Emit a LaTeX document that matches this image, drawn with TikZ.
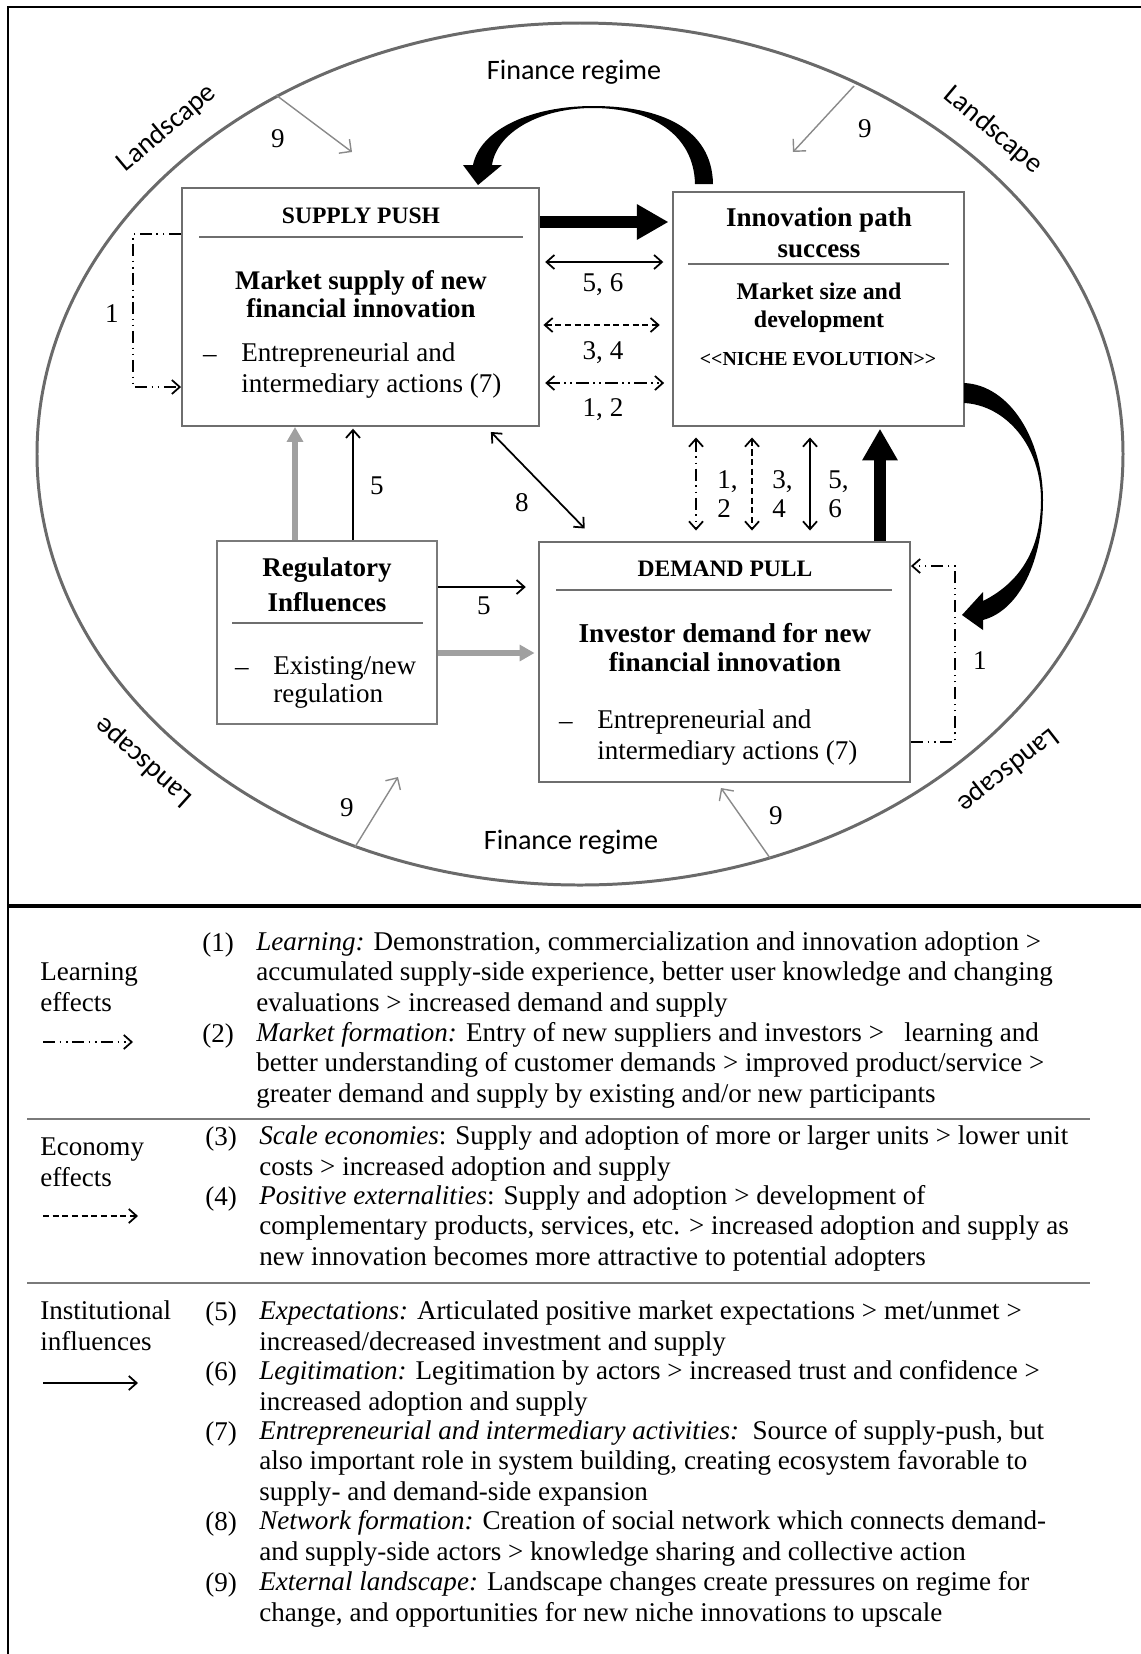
\documentclass[tikz,border=0pt]{standalone}
\usepackage{fontspec}
\setmainfont{Liberation Serif}
\newfontfamily\calib{Carlito}
\usetikzlibrary{arrows.meta}
\definecolor{framegray}{HTML}{6E6E6E}
\definecolor{ringgray}{HTML}{6A6A6A}
\definecolor{softgray}{HTML}{A0A0A0}
\definecolor{extgray}{HTML}{8A8A8A}
\definecolor{linegray}{HTML}{7A7A7A}
\newcommand{\fs}[2]{\fontsize{#1}{#2}\selectfont}
\begin{document}
\begin{tikzpicture}[x=0.02cm,y=-0.02cm,
    every node/.style={inner sep=0pt},
    panel/.style={draw=framegray,line width=1.1pt},
    divider/.style={draw=framegray,line width=0.9pt},
    bodytext/.style={font=\fs{15.4}{17.1}},
    titletext/.style={font=\fs{13.4}{16}\bfseries},
    boldtext/.style={font=\fs{15.3}{15.9}\bfseries,align=center},
    numtext/.style={font=\fs{15.4}{16}},
    sanstext/.style={font=\calib\fs{16}{18}},
    conn/.style={line width=1pt},
    onehead/.style={conn,-{Straight Barb[length=4.5pt,width=8pt]}},
    twohead/.style={conn,{Straight Barb[length=4.5pt,width=8pt]}-{Straight Barb[length=4.5pt,width=8pt]}},
    learn/.style={dash pattern=on 7pt off 2.5pt on 1pt off 2.5pt on 1pt off 2.5pt},
    econ/.style={dash pattern=on 3.5pt off 2pt},
    push/.style={line width=6.3pt,-{Triangle[length=18pt,width=19pt]}},
    regarrow/.style={softgray,line width=3.4pt,-{Triangle[length=8.5pt,width=9pt]}},
    landarrow/.style={extgray,line width=0.8pt,-{Straight Barb[length=5pt,width=10pt]}}]
\useasboundingbox (0,0) rectangle (1141,1654);
\draw[line width=1.2pt] (1160,7) -- (8,7) -- (8,1670);
\draw[line width=2.4pt] (8,906) -- (1160,906);
\draw[ringgray,line width=1.7pt] (580,454) ellipse [x radius=543,y radius=431];
\node[sanstext,anchor=base] (regimetop) at (574,79) {Finance regime};
\node[sanstext,anchor=base] (regimebot) at (571,849) {Finance regime};
\node[sanstext,rotate=40] (landul) at (167,128) {Landscape};
\node[sanstext,rotate=-40] (landur) at (993,130) {Landscape};
\node[sanstext,rotate=138] (landll) at (144,762) {Landscape};
\node[sanstext,rotate=-142] (landlr) at (1008,770) {Landscape};
\node[panel,minimum width=7.14cm,minimum height=4.76cm] (supply) at (360.5,307) {};
\node[panel,minimum width=5.82cm,minimum height=4.68cm] (innov) at (818.5,309) {};
\node[panel,minimum width=7.42cm,minimum height=4.8cm] (demand) at (724.5,662) {};
\node[panel,draw=linegray,line width=0.9pt,minimum width=4.4cm,minimum height=3.66cm] (reg) at (327,632.5) {};
\draw[divider] (199,237) -- (523,237);
\draw[divider] (688,264) -- (949,264);
\draw[divider] (556,590) -- (892,590);
\draw[divider] (232,623) -- (423,623);
\node[titletext,anchor=base] (suptitle) at (361,223) {SUPPLY PUSH};
\node[boldtext,anchor=base] (supmain) at (361,317) {Market supply of new\\financial innovation};
\node[bodytext,anchor=base] (supdash) at (210,362) {–};
\node[bodytext,anchor=base west,align=left] (supact) at (241,392) {Entrepreneurial and\\intermediary actions (7)};
\node[font=\fs{15.4}{17.6}\bfseries,align=center,anchor=base] (innovtitle) at (819,257) {Innovation path\\success};
\node[font=\fs{13.6}{15.4}\bfseries,align=center,anchor=base] (innovmain) at (819,327) {Market size and\\development};
\node[font=\fs{11.3}{13}\bfseries,anchor=base] (niche) at (818,365) {<{}<NICHE EVOLUTION>{}>};
\node[titletext,anchor=base] (demtitle) at (725,576) {DEMAND PULL};
\node[boldtext,font=\fs{15.5}{16.5}\bfseries,anchor=base] (demmain) at (725,671) {Investor demand for new\\financial innovation};
\node[bodytext,anchor=base] (demdash) at (566,729) {–};
\node[bodytext,anchor=base west,align=left] (demact) at (597,759) {Entrepreneurial and\\intermediary actions (7)};
\node[boldtext,font=\fs{15.4}{19.9}\bfseries,anchor=base] (regtitle) at (327,611) {Regulatory\\Influences};
\node[bodytext,anchor=base] (regdash) at (242,675) {–};
\node[bodytext,font=\fs{15.4}{15.9},anchor=base west,align=left] (regtext) at (273,702) {Existing/new\\regulation};
\fill (713,184) .. controls (712,128) and (660,106) .. (593,106)
  .. controls (530,106) and (480,130) .. (473,165)
  -- (463,165) -- (478,185) -- (502,165) -- (492,165)
  .. controls (497,132) and (540,108) .. (593,108)
  .. controls (652,108) and (694,135) .. (695,184) -- cycle;
\fill (964,383) .. controls (1010,385) and (1043,440) .. (1043,500)
  .. controls (1043,560) and (1020,610) .. (983,620)
  -- (983,630) -- (962,615) -- (983,592) -- (983,601)
  .. controls (1015,585) and (1041,555) .. (1041,500)
  .. controls (1041,445) and (1005,405) .. (964,403) -- cycle;
\draw[push,shorten >=2pt] (supply.east |- 0,222) -- (innov.west |- 0,222);
\draw[twohead,shorten <=3pt,shorten >=5pt] (supply.east |- 0,262) -- (innov.west |- 0,262);
\draw[twohead,econ,shorten <=2pt,shorten >=7pt] (supply.east |- 0,325) -- (innov.west |- 0,325);
\draw[twohead,learn,shorten <=3pt,shorten >=4.5pt] (supply.east |- 0,383) -- (innov.west |- 0,383);
\draw[twohead,learn,shorten <=6pt,shorten >=6pt] (innov.south -| 696,0) -- (demand.north -| 696,0);
\draw[twohead,econ,shorten <=6pt,shorten >=6pt] (innov.south -| 752,0) -- (demand.north -| 752,0);
\draw[twohead,shorten <=6pt,shorten >=6pt] (innov.south -| 810,0) -- (demand.north -| 810,0);
\draw[push,shorten >=1pt] (demand.north -| 880,0) -- (innov.south -| 880,0);
\draw[twohead,shorten <=4pt,shorten >=10pt] (supply.south -| 486,0) -- (demand.north -| 597,0);
\draw[regarrow] (reg.north -| 295,0) -- (supply.south -| 295,0);
\draw[onehead,shorten >=1pt] (reg.north -| 353,0) -- (supply.south -| 353,0);
\draw[onehead,shorten >=7pt] (reg.east |- 0,587) -- (demand.west |- 0,587);
\draw[regarrow,shorten >=2pt] (reg.east |- 0,653) -- (demand.west |- 0,653);
\coordinate (loopl) at (133,387);
\draw[onehead,learn] (supply.west |- 0,234) -| (loopl) -- (supply.west |- loopl);
\coordinate (loopr) at (955,566);
\draw[onehead,learn] (demand.east |- 0,742) -| (loopr) -- (demand.east |- loopr);
\node[numtext,anchor=base] (k56) at (603,291) {5, 6};
\node[numtext,anchor=base] (k34) at (603,359) {3, 4};
\node[numtext,anchor=base] (k12) at (603,416) {1, 2};
\node[numtext,anchor=base] (kl) at (112,322) {1};
\node[numtext,anchor=base] (kr) at (980,669) {1};
\node[numtext,anchor=base west,align=left] (kv12) at (717,517) {1,\\2};
\node[numtext,anchor=base west,align=left] (kv34) at (772,517) {3,\\4};
\node[numtext,anchor=base west,align=left] (kv56) at (828,517) {5,\\6};
\node[numtext,anchor=base] (k5up) at (377,494) {5};
\node[numtext,anchor=base] (k8) at (522,511) {8};
\node[numtext,anchor=base] (k5right) at (484,614) {5};
\coordinate (ula) at (276,95); \coordinate (ulb) at (352,152);
\coordinate (ura) at (854,86); \coordinate (urb) at (793,152);
\coordinate (lla) at (355,847); \coordinate (llb) at (398,777);
\coordinate (lra) at (770,858); \coordinate (lrb) at (721,788);
\draw[landarrow] (ula) -- (ulb);
\draw[landarrow] (ura) -- (urb);
\draw[landarrow] (lla) -- (llb);
\draw[landarrow] (lra) -- (lrb);
\node[numtext,anchor=base] (k9ul) at (278,147) {9};
\node[numtext,anchor=base] (k9ur) at (865,137) {9};
\node[numtext,anchor=base] (k9ll) at (347,816) {9};
\node[numtext,anchor=base] (k9lr) at (776,824) {9};
\draw[divider,draw=linegray] (27,1119) -- (1090,1119);
\draw[divider,draw=linegray] (27,1283) -- (1090,1283);
\node[bodytext,anchor=base west,align=left] (learnkey) at (40,1011) {Learning\\effects};
\node[bodytext,anchor=base west,align=left] (econkey) at (40,1186) {Economy\\effects};
\node[bodytext,anchor=base west,align=left] (instkey) at (40,1350) {Institutional\\influences};
\coordinate (learna) at (43,1042); \coordinate (learnb) at (133,1042);
\coordinate (econa) at (43,1216); \coordinate (econb) at (138,1216);
\coordinate (insta) at (43,1383); \coordinate (instb) at (138,1383);
\draw[onehead,learn] (learna) -- (learnb);
\draw[onehead,econ] (econa) -- (econb);
\draw[onehead] (insta) -- (instb);
\node[numtext,anchor=base west] (n1) at (202,951) {(1)};
\node[numtext,anchor=base west] (n2) at (202,1042) {(2)};
\node[numtext,anchor=base west] (n3) at (205,1145) {(3)};
\node[numtext,anchor=base west] (n4) at (205,1205) {(4)};
\node[numtext,anchor=base west] (n5) at (205,1320) {(5)};
\node[numtext,anchor=base west] (n6) at (205,1380) {(6)};
\node[numtext,anchor=base west] (n7) at (205,1440) {(7)};
\node[numtext,anchor=base west] (n8) at (205,1530) {(8)};
\node[numtext,anchor=base west] (n9) at (205,1591) {(9)};
\node[bodytext,anchor=base west,align=left] (t1) at (256,1011) {\textit{Learning:} Demonstration, commercialization and innovation adoption >\\accumulated supply-side experience, better user knowledge and changing\\evaluations > increased demand and supply};
\node[bodytext,anchor=base west,align=left] (t2) at (256,1102) {\textit{Market formation:} Entry of new suppliers and investors >\ \ \ learning and\\better understanding of customer demands > improved product/service >\\greater demand and supply by existing and/or new participants};
\node[bodytext,anchor=base west,align=left] (t3) at (259,1175) {\textit{Scale economies}: Supply and adoption of more or larger units > lower unit\\costs > increased adoption and supply};
\node[bodytext,anchor=base west,align=left] (t4) at (259,1265) {\textit{Positive externalities}: Supply and adoption > development of\\complementary products, services, etc. > increased adoption and supply as\\new innovation becomes more attractive to potential adopters};
\node[bodytext,anchor=base west,align=left] (t5) at (259,1350) {\textit{Expectations:} Articulated positive market expectations > met/unmet >\\increased/decreased investment and supply};
\node[bodytext,anchor=base west,align=left] (t6) at (259,1410) {\textit{Legitimation:} Legitimation by actors > increased trust and confidence >\\increased adoption and supply};
\node[bodytext,anchor=base west,align=left] (t7) at (259,1500) {\textit{Entrepreneurial and intermediary activities:}\ \ Source of supply-push, but\\also important role in system building, creating ecosystem favorable to\\supply- and demand-side expansion};
\node[bodytext,anchor=base west,align=left] (t8) at (259,1560) {\textit{Network formation:} Creation of social network which connects demand-\\and supply-side actors > knowledge sharing and collective action};
\node[bodytext,anchor=base west,align=left] (t9) at (259,1621) {\textit{External landscape:} Landscape changes create pressures on regime for\\change, and opportunities for new niche innovations to upscale};
\end{tikzpicture}
\end{document}
